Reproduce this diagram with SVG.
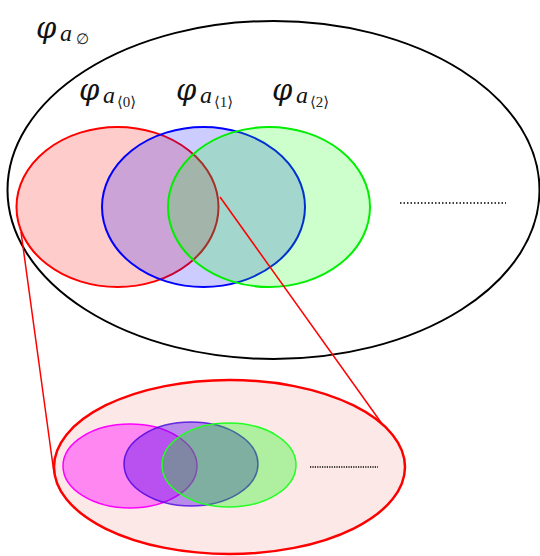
<svg xmlns="http://www.w3.org/2000/svg" width="540" height="556" viewBox="0 0 540 556">
<style>
.phi{font-family:"DejaVu Serif","Liberation Serif",serif;font-style:italic;fill:#111}
.lbl{font-family:"Liberation Serif","DejaVu Serif",serif;font-style:italic;fill:#111}
.sub{font-family:"Liberation Serif","DejaVu Serif",serif;font-style:normal;fill:#222}
.dots{stroke:#000;stroke-width:1.5;fill:none}
.link{stroke:#ff0000;stroke-width:1.5;fill:none}
</style>
<rect width="540" height="556" fill="#fff"/>
<g id="universe">
<ellipse cx="273.5" cy="190" rx="266" ry="169" fill="none" stroke="#000" stroke-width="2"/>
<line x1="67" y1="69.5" x2="71" y2="67" stroke="#fff" stroke-width="3"/>
<text class="phi" x="36" y="38" font-size="29">φ</text>
<text class="lbl" x="60" y="41" font-size="24">a</text>
<text class="sub" x="76" y="44" font-size="15">∅</text>
</g>
<g id="set0">
<ellipse cx="117.5" cy="207" rx="101" ry="80" fill="#ff0000" fill-opacity="0.2" stroke="#ff0000" stroke-width="2"/>
<text class="phi" x="79" y="100" font-size="29">φ</text>
<text class="lbl" x="103" y="103" font-size="24">a</text>
<text class="sub" x="117" y="107" font-size="15">⟨0⟩</text>
</g>
<g id="set1">
<ellipse cx="203.5" cy="207" rx="101.5" ry="80" fill="#0000ff" fill-opacity="0.2" stroke="#0000ff" stroke-width="2"/>
<text class="phi" x="176" y="100" font-size="29">φ</text>
<text class="lbl" x="200" y="103" font-size="24">a</text>
<text class="sub" x="214" y="107" font-size="15">⟨1⟩</text>
</g>
<g id="set2">
<ellipse cx="269" cy="207" rx="101" ry="80" fill="#00ff00" fill-opacity="0.2" stroke="#00ee00" stroke-width="2"/>
<text class="phi" x="272" y="100" font-size="29">φ</text>
<text class="lbl" x="296" y="103" font-size="24">a</text>
<text class="sub" x="310" y="107" font-size="15">⟨2⟩</text>
</g>
<g id="dots-top">
<line class="dots" x1="400" y1="203" x2="506" y2="203" stroke-dasharray="1.5 2"/>
</g>
<g id="connectors">
<line class="link" x1="21" y1="232" x2="54" y2="473"/>
<line class="link" x1="220" y1="197" x2="385" y2="428"/>
</g>
<g id="zoom">
<ellipse cx="229.5" cy="467" rx="175.5" ry="87" fill="#fde8e8" stroke="#ff0000" stroke-width="2.5"/>
</g>
<g id="zset0">
<ellipse cx="130" cy="466" rx="67" ry="42" fill="#ff00ff" fill-opacity="0.42" stroke="#ff00ff" stroke-width="1.5"/>
</g>
<g id="zset1">
<ellipse cx="191" cy="464" rx="67" ry="42" fill="#5000ee" fill-opacity="0.4" stroke="#4400dd" stroke-width="1.5" stroke-opacity="0.8"/>
</g>
<g id="zset2">
<ellipse cx="229" cy="465" rx="67" ry="42" fill="#00ff00" fill-opacity="0.31" stroke="#22ff22" stroke-width="1.5"/>
</g>
<g id="dots-bottom">
<line class="dots" x1="310" y1="467" x2="378" y2="467" stroke-width="1.3" stroke-dasharray="1.2 1.2"/>
</g>
</svg>
